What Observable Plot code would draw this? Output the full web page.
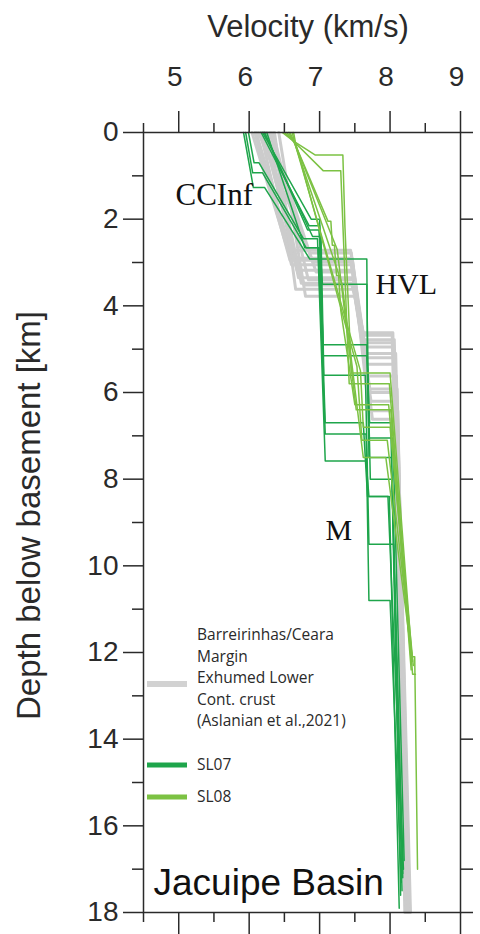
<!DOCTYPE html>
<html><head><meta charset="utf-8">
<script src="https://cdn.jsdelivr.net/npm/d3@7"></script>
<script src="https://cdn.jsdelivr.net/npm/@observablehq/plot@0.6"></script>
<style>
body{margin:0;background:#fff;}
#wrap{position:relative;width:480px;height:934px;overflow:hidden;}
</style></head><body><div id="wrap"></div>
<script>
// ---- data ----
const xTicks = [5, 6, 7, 8, 9];
const xMinor = [4.5, 5.5, 6.5, 7.5, 8.5];
const yTicks = [0, 2, 4, 6, 8, 10, 12, 14, 16, 18];
const yMinor = [1, 3, 5, 7, 9, 11, 13, 15, 17];
const yAll = [0,1,2,3,4,5,6,7,8,9,10,11,12,13,14,15,16,17,18];
const annotations = ["CCInf", "HVL", "M"];
const basinName = "Jacuipe Basin";
const legendGrey = ["Barreirinhas/Ceara", "Margin", "Exhumed Lower", "Cont. crust", "(Aslanian et al.,2021)"];
const seriesNames = ["SL07", "SL08"];

// velocity (km/s), depth (km) vertices of each profile
const greyProfiles = [
 [[6.04,0],[6.55,2.72],[7.44,2.72],[7.61,4.62],[8.04,4.62],[8.21,18]],
 [[6.10,0],[6.62,2.90],[7.46,2.90],[7.63,4.78],[8.06,4.78],[8.24,18]],
 [[6.16,0],[6.60,3.05],[7.45,3.05],[7.64,4.95],[8.05,4.95],[8.25,18]],
 [[6.21,0],[6.68,3.18],[7.47,3.18],[7.66,5.10],[8.08,5.10],[8.27,18]],
 [[6.26,0],[6.70,3.35],[7.48,3.35],[7.67,5.35],[8.07,5.35],[8.26,18]],
 [[6.31,0],[6.74,3.48],[7.47,3.48],[7.69,5.62],[8.09,5.62],[8.28,18]],
 [[6.36,0],[6.66,3.62],[7.49,3.62],[7.71,5.92],[8.10,5.92],[8.27,18]],
 [[6.42,0],[6.80,3.78],[7.50,3.78],[7.73,6.20],[8.10,6.20],[8.29,18]],
 [[6.13,0],[6.86,2.78],[7.45,2.78],[7.70,6.42],[8.11,6.42],[8.25,18]],
 [[6.23,0],[6.90,2.98],[7.47,2.98],[7.75,6.62],[8.09,6.62],[8.24,18]],
 [[6.29,0],[6.95,3.22],[7.48,3.22],[7.65,5.20],[8.06,5.20],[8.23,18]],
 [[6.19,0],[6.78,3.52],[7.46,3.52],[7.63,4.68],[8.03,4.68],[8.22,18]],
 [[6.08,0],[6.58,2.95],[7.44,2.95],[7.62,4.85],[8.05,4.85],[8.23,18]],
 [[6.34,0],[6.84,3.40],[7.49,3.40],[7.72,6.00],[8.08,6.00],[8.26,18]]
];
const sl07Profiles = [
 [[5.92,0],[6.06,1.27],[6.22,1.27],[6.86,2.92],[7.00,2.92],[7.08,6.70],[7.62,6.70],[7.68,8.40],[7.99,8.40],[8.13,17.9]],
 [[5.95,0],[6.05,0.93],[6.19,0.93],[6.81,2.66],[6.98,2.66],[7.08,6.96],[7.66,6.96],[7.70,10.8],[8.00,10.8],[8.16,17.3]],
 [[5.99,0],[6.07,0.70],[6.14,0.70],[6.77,2.45],[6.97,2.45],[7.08,7.58],[7.66,7.58],[7.70,8.40],[7.97,8.40],[8.19,17.0]],
 [[6.19,0],[6.88,2.00],[7.00,2.00],[7.02,2.92],[7.67,2.92],[7.68,5.15],[7.72,8.00],[8.03,8.00],[8.18,17.1]],
 [[6.22,0],[6.83,2.25],[6.99,2.25],[7.04,3.50],[7.67,3.50],[7.70,7.50],[8.02,7.50],[8.17,17.5]],
 [[6.25,0],[6.79,2.66],[7.00,2.66],[7.05,4.90],[7.67,4.90],[7.70,7.05],[8.04,7.05],[8.20,16.8]],
 [[6.17,0],[6.85,2.15],[7.00,2.15],[7.05,5.15],[7.67,5.15],[7.71,6.70],[8.01,6.70],[8.15,17.6]],
 [[6.21,0],[6.90,2.40],[7.02,2.40],[7.06,5.60],[7.65,5.60],[7.70,9.50],[8.05,9.50],[8.18,17.2]]
];
const sl08Profiles = [
 [[6.47,0],[6.63,0.20],[6.94,0.52],[7.33,0.52],[7.36,2.20],[7.45,5.55],[8.00,5.55],[8.31,12.1],[8.35,12.1],[8.39,17.0]],
 [[6.53,0],[6.63,0.20],[7.05,0.88],[7.30,0.88],[7.42,5.80],[7.99,5.80],[8.32,12.5],[8.36,12.5]],
 [[6.58,0],[6.64,0.22],[7.12,2.05],[7.16,2.05],[7.18,2.60],[7.21,2.60],[7.24,3.30],[7.27,3.30],[7.30,4.10],[7.50,6.28],[7.98,6.28],[8.30,12.2]],
 [[6.61,0],[6.65,0.25],[7.58,5.50],[7.62,6.80],[8.00,6.80],[8.33,12.3]],
 [[6.63,0],[6.66,0.25],[7.53,5.40],[7.60,7.10],[7.96,7.10],[8.32,12.2]],
 [[6.56,0],[6.66,0.30],[7.25,2.70],[7.52,6.40],[8.01,6.40],[8.30,12.4]],
 [[6.50,0],[6.64,0.22],[7.32,3.50],[7.62,7.50],[7.94,7.50],[8.31,12.1]]
];

// ---- build rows ----
function rows(profiles, tag) {
  const out = [];
  profiles.forEach((p, i) => p.forEach(([v, z]) => out.push({id: tag + i, v, z})));
  return out;
}
const greyRows = rows(greyProfiles, "g");
const sl07Rows = rows(sl07Profiles, "a");
const sl08Rows = rows(sl08Profiles, "b");

const GREY = "#cccccc", DARK = "#1ea54b", LIGHT = "#7cc243", INK = "#2a2a2a";
const sans = "Liberation Sans, Arial, Helvetica, sans-serif";
const serif = "Liberation Serif, Times New Roman, serif";
const blank = () => "";

const chart = Plot.plot({
  width: 480, height: 934,
  marginLeft: 143, marginRight: 20, marginTop: 132, marginBottom: 22,
  x: {domain: [4.5, 9], label: null},
  y: {domain: [0, 18], reverse: true, label: null},
  style: {fontFamily: sans, background: "#fff", color: INK},
  marks: [
    Plot.line(greyRows, {x: "v", y: "z", z: "id", stroke: GREY, strokeWidth: 3}),
    Plot.line(sl07Rows, {x: "v", y: "z", z: "id", stroke: DARK, strokeWidth: 1.5}),
    Plot.line(sl08Rows, {x: "v", y: "z", z: "id", stroke: LIGHT, strokeWidth: 1.5}),
    Plot.frame({stroke: INK, strokeWidth: 1.5}),
    Plot.axisX(xTicks, {anchor: "top", tickSize: 22, tickFormat: blank, label: null, stroke: INK, strokeWidth: 1.5}),
    Plot.axisX(xMinor, {anchor: "top", tickSize: 10, tickFormat: blank, label: null, stroke: INK, strokeWidth: 1.5}),
    Plot.axisX(xTicks, {anchor: "bottom", tickSize: 22, tickFormat: blank, label: null, stroke: INK, strokeWidth: 1.5}),
    Plot.axisX(xMinor, {anchor: "bottom", tickSize: 10, tickFormat: blank, label: null, stroke: INK, strokeWidth: 1.5}),
    Plot.axisY(yTicks, {anchor: "left", tickSize: 20, tickFormat: blank, label: null, stroke: INK, strokeWidth: 1.5}),
    Plot.axisY(yMinor, {anchor: "left", tickSize: 11, tickFormat: blank, label: null, stroke: INK, strokeWidth: 1.5}),
    Plot.axisY(yAll, {anchor: "right", tickSize: 12, tickFormat: blank, label: null, stroke: INK, strokeWidth: 1.5}),
    // tick labels
    Plot.text(xTicks, {x: d => d, text: d => String(d), frameAnchor: "top", dy: -66, dx: -4, fontSize: 28, fill: INK}),
    Plot.text(yTicks, {y: d => d, text: d => String(d), frameAnchor: "left", dx: -25, textAnchor: "end", fontSize: 28, fill: INK}),
    // axis titles
    Plot.text(["Velocity (km/s)"], {frameAnchor: "top", dx: 6, dy: -118, fontSize: 31, fill: INK}),
    Plot.text(["Depth below basement [km]"], {frameAnchor: "left", dx: -114, dy: -7, rotate: -90, textAnchor: "middle", fontSize: 33, fill: INK, fontFamily: "Liberation Sans Narrow, Arial Narrow, sans-serif"}),
    // annotations
    Plot.text([annotations[0]], {x: [4.954], y: [1.44], text: d => d, textAnchor: "start", fontSize: 31, fontFamily: serif, fill: "#111"}),
    Plot.text([annotations[1]], {x: [7.794], y: [3.51], text: d => d, textAnchor: "start", fontSize: 30, fontFamily: serif, fill: "#111"}),
    Plot.text([annotations[2]], {x: [7.084], y: [9.18], text: d => d, textAnchor: "start", fontSize: 30, fontFamily: serif, fill: "#111"}),
    Plot.text([basinName], {x: [4.642], y: [17.33], text: d => d, textAnchor: "start", fontSize: 37, fill: "#111"})
  ]
});

// ---- legend drawn inside the frame ----
const svg = d3.select(chart);
const lg = svg.append("g").attr("font-family", "Open Sans, Noto Sans, sans-serif").attr("font-size", 15.5).attr("fill", INK).attr("text-anchor", "start");
lg.append("line").attr("x1", 147).attr("x2", 187).attr("y1", 684).attr("y2", 684).attr("stroke", "#d2d2d2").attr("stroke-width", 6);
legendGrey.forEach((t, i) => lg.append("text").attr("x", 197).attr("y", 640 + i * 21.6).attr("text-anchor", "start").text(t));
[[DARK, 765, 770], [LIGHT, 797, 802]].forEach(([c, ly, ty], i) => {
  lg.append("line").attr("x1", 147).attr("x2", 187).attr("y1", ly).attr("y2", ly).attr("stroke", c).attr("stroke-width", 5);
  lg.append("text").attr("x", 197).attr("y", ty).attr("text-anchor", "start").text(seriesNames[i]);
});

document.getElementById("wrap").appendChild(chart);
</script>
</body></html>
